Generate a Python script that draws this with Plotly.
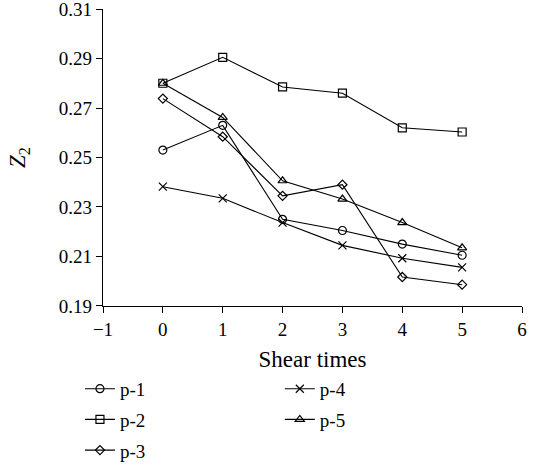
import plotly.graph_objects as go

shear = [0, 1, 2, 3, 4, 5]
p1 = [0.253, 0.263, 0.225, 0.2205, 0.215, 0.2105]
p2 = [0.280, 0.2905, 0.2785, 0.2760, 0.2620, 0.2603]
p3 = [0.2738, 0.2584, 0.2345, 0.2390, 0.2017, 0.1986]
p4 = [0.2382, 0.2335, 0.2237, 0.2145, 0.2093, 0.2056]
p5 = [0.280, 0.2662, 0.2406, 0.2332, 0.2237, 0.2135]

names = ["p-1", "p-2", "p-3", "p-4", "p-5"]
series = [p1, p2, p3, p4, p5]
symbols = ["circle-open", "square-open", "diamond-open", "x-thin-open", "triangle-up-open"]
sizes = [8, 8, 7, 8, 8]
legends = ["legend", "legend", "legend", "legend2", "legend2"]

FONT = "Liberation Serif"

fig = go.Figure()
for n, s, sym, sz, lg in zip(names, series, symbols, sizes, legends):
    fig.add_trace(go.Scatter(
        x=shear, y=s, name=n, mode="lines+markers",
        line=dict(color="black", width=1.1),
        marker=dict(symbol=sym, size=sz, color="black", line=dict(color="black", width=1.2)),
        legend=lg, legendgroup=n,
    ))

fig.update_layout(
    width=537, height=468,
    margin=dict(l=103, r=15, t=9, b=162, autoexpand=False),
    paper_bgcolor="white", plot_bgcolor="white",
    font=dict(family=FONT, size=19, color="black"),
    xaxis=dict(
        range=[-1, 6], tickmode="array", tickvals=[-1, 0, 1, 2, 3, 4, 5, 6],
        ticktext=["\u22121", "0", "1", "2", "3", "4", "5", "6"],
        showgrid=False, zeroline=False, showline=True, linecolor="black", linewidth=1.2,
        ticks="outside", ticklen=6, tickcolor="black", ticklabeloverflow="allow",
        title=dict(text="Shear times", standoff=11),
    ),
    yaxis=dict(
        range=[0.18999, 0.31001], tickmode="array",
        tickvals=[0.19, 0.21, 0.23, 0.25, 0.27, 0.29, 0.31],
        ticktext=["0.19", "0.21", "0.23", "0.25", "0.27", "0.29", "0.31"],
        showgrid=False, zeroline=False, showline=True, linecolor="black", linewidth=1.2,
        ticks="outside", ticklen=6, tickcolor="black", ticklabeloverflow="allow",
        title=dict(text="<i>Z</i><sub>2</sub>", standoff=26),
    ),
    legend=dict(x=-0.055, y=-0.215, xanchor="left", yanchor="top", orientation="v",
                bgcolor="rgba(0,0,0,0)", font=dict(size=19), itemwidth=30, tracegroupgap=3),
    legend2=dict(x=0.422, y=-0.215, xanchor="left", yanchor="top", orientation="v",
                 bgcolor="rgba(0,0,0,0)", font=dict(size=19), itemwidth=30, tracegroupgap=3),
)

fig.write_html("out.html")
